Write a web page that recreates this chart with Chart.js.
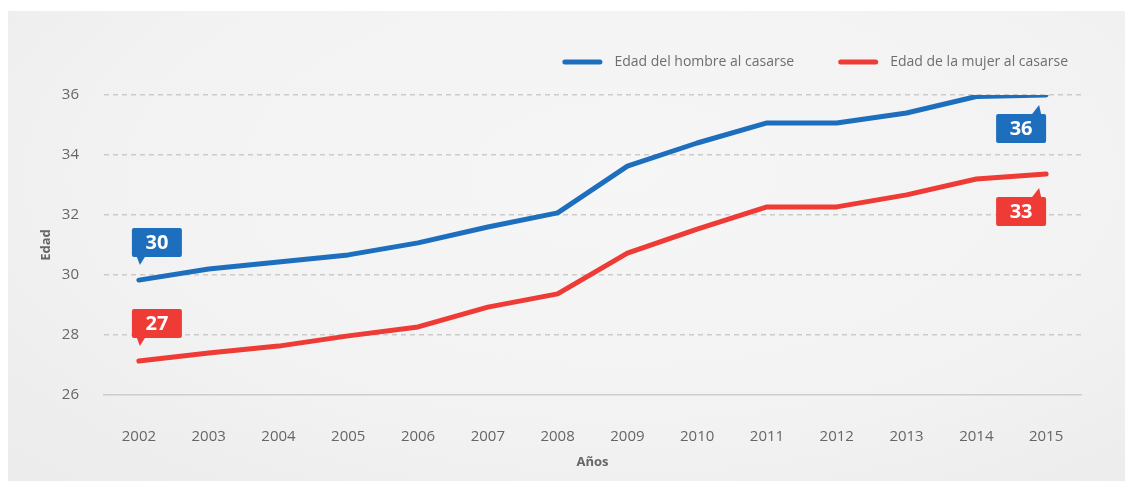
<!DOCTYPE html>
<html>
<head>
<meta charset="utf-8">
<script src="https://cdn.jsdelivr.net/npm/chart.js@4"></script>
<style>
    html, body { margin: 0; padding: 0; background: #ffffff; }
    #panel {
        position: absolute; left: 8px; top: 11px; width: 1117px; height: 470px;
        background: radial-gradient(ellipse at 55% 35%, #f6f6f6 0%, #f2f2f2 60%, #ebebeb 100%);
    }
    #wrap { position: absolute; left: 0; top: 0; width: 1132px; height: 484px; }
</style>
</head>
<body>
<div id="panel"></div>
<div id="wrap"><canvas id="edadCanvas"></canvas></div>
<script>
// data
const years = ['2002', '2003', '2004', '2005', '2006', '2007', '2008',
               '2009', '2010', '2011', '2012', '2013', '2014', '2015'];
const edadHombre = [29.83, 30.2, 30.43, 30.67, 31.07, 31.6, 32.07,
                    33.63, 34.4, 35.07, 35.07, 35.4, 35.95, 36.0];
const edadMujer = [27.13, 27.4, 27.63, 27.97, 28.27, 28.93, 29.37,
                   30.73, 31.53, 32.27, 32.27, 32.67, 33.2, 33.37];
const seriesNames = ['Edad del hombre al casarse', 'Edad de la mujer al casarse'];
const yTicks = [26, 28, 30, 32, 34, 36];

const BLUE = '#1d6fbe';
const RED = '#ee3b35';

// legend drawn by hand so the spacing matches the original (right aligned, wide gaps)
const legendPlugin = {
    id: 'customLegend',
    afterDraw(chart) {
        const ctx = chart.ctx;
        const right = 1068, cy = 62, swatch = 40, gapText = 12, gapItem = 44;
        ctx.save();
        ctx.font = '14px "Open Sans"';
        ctx.textBaseline = 'middle';
        ctx.textAlign = 'left';
        let x = right;
        // walk from the last item backwards
        for (let di = chart.data.datasets.length - 1; di >= 0; di--) {
            const ds = chart.data.datasets[di];
            const tw = ctx.measureText(ds.label).width;
            const tx = x - tw;
            ctx.fillStyle = '#6e6e6e';
            ctx.fillText(ds.label, tx, cy);
            const sx = tx - gapText - swatch;
            ctx.strokeStyle = ds.borderColor;
            ctx.lineWidth = 5;
            ctx.lineCap = 'round';
            ctx.beginPath();
            ctx.moveTo(sx + 2.5, cy);
            ctx.lineTo(sx + swatch - 2.5, cy);
            ctx.stroke();
            x = sx - gapItem;
        }
        ctx.restore();
    }
};

// draws the little speech-bubble labels on the first and last point of each line
const calloutPlugin = {
    id: 'callouts',
    afterDatasetsDraw(chart) {
        const ctx = chart.ctx;
        chart.data.datasets.forEach((ds, di) => {
            const meta = chart.getDatasetMeta(di);
            const pts = meta.data;
            [0, pts.length - 1].forEach(i => {
                const p = pts[i];
                const w = 50, h = 29;
                let bx, by, tip, base1, base2;
                if (i === 0) {
                    // box above-right of the first point, tail down
                    bx = p.x - 7;
                    by = p.y - 23 - h;
                    tip = {x: p.x + 1, y: p.y - 15};
                    base1 = {x: bx + 5, y: by + h};
                    base2 = {x: bx + 13, y: by + h};
                } else {
                    // box below-left of the last point, tail up
                    bx = p.x - w;
                    by = p.y + (di === 0 ? 19 : 23);
                    tip = {x: p.x - 7, y: by - 9};
                    base1 = {x: p.x - 14, y: by};
                    base2 = {x: p.x - 5, y: by};
                }
                ctx.save();
                ctx.fillStyle = ds.borderColor;
                ctx.beginPath();
                ctx.roundRect(bx, by, w, h, 2);
                ctx.fill();
                ctx.beginPath();
                ctx.moveTo(base1.x, base1.y);
                ctx.lineTo(tip.x, tip.y);
                ctx.lineTo(base2.x, base2.y);
                ctx.closePath();
                ctx.fill();
                ctx.fillStyle = '#ffffff';
                ctx.font = 'bold 20px "Open Sans"';
                ctx.textAlign = 'center';
                ctx.textBaseline = 'middle';
                ctx.fillText(String(Math.round(ds.data[i])), bx + w / 2, by + h / 2 + 1);
                ctx.restore();
            });
        });
    }
};

document.addEventListener('DOMContentLoaded', function() {
    const ctx = document.getElementById('edadCanvas').getContext('2d');
    new Chart(ctx, {
        type: 'line',
        data: {
            labels: years,
            datasets: [{
                label: seriesNames[0],
                data: edadHombre,
                borderColor: BLUE,
                backgroundColor: BLUE
            }, {
                label: seriesNames[1],
                data: edadMujer,
                borderColor: RED,
                backgroundColor: RED
            }]
        },
        options: {
            responsive: true,
            maintainAspectRatio: false,
            animation: false,
            elements: {
                line: { borderWidth: 5, tension: 0, borderCapStyle: 'round', borderJoinStyle: 'round' },
                point: { radius: 0, hoverRadius: 0 }
            },
            layout: { padding: { top: 95, right: 51, bottom: 0, left: 0 } },
            plugins: {
                tooltip: { enabled: false },
                legend: { display: false }
            },
            scales: {
                x: {
                    offset: true,
                    grid: { display: false },
                    border: { display: true, color: '#cdcdcd', width: 1.5 },
                    ticks: {
                        padding: 25,
                        color: '#666666',
                        font: { family: '"Open Sans"', size: 15 }
                    },
                    title: {
                        display: true,
                        text: 'Años',
                        color: '#666666',
                        font: { family: '"Open Sans"', size: 13, weight: 'bold' },
                        padding: { top: 0, bottom: 14 }
                    },
                    afterFit: function(scale) { scale.height = 89; }
                },
                y: {
                    min: 26,
                    max: 36,
                    afterBuildTicks: function(scale) {
                        scale.ticks = yTicks.map(v => ({ value: v }));
                    },
                    grid: {
                        drawTicks: false,
                        lineWidth: 1.5,
                        color: c => c.tick && c.tick.value === 26 ? 'rgba(0,0,0,0)' : '#cbcbcb'
                    },
                    border: { display: false, dash: [5, 4] },
                    ticks: {
                        padding: 25,
                        color: '#666666',
                        font: { family: '"Open Sans"', size: 15 }
                    },
                    title: {
                        display: true,
                        text: 'Edad',
                        color: '#666666',
                        font: { family: '"Open Sans"', size: 13, weight: 'bold' },
                        padding: { top: 38, bottom: 0 }
                    },
                    afterFit: function(scale) { scale.width = 104; }
                }
            }
        },
        plugins: [calloutPlugin, legendPlugin]
    });
});
</script>
</body>
</html>
